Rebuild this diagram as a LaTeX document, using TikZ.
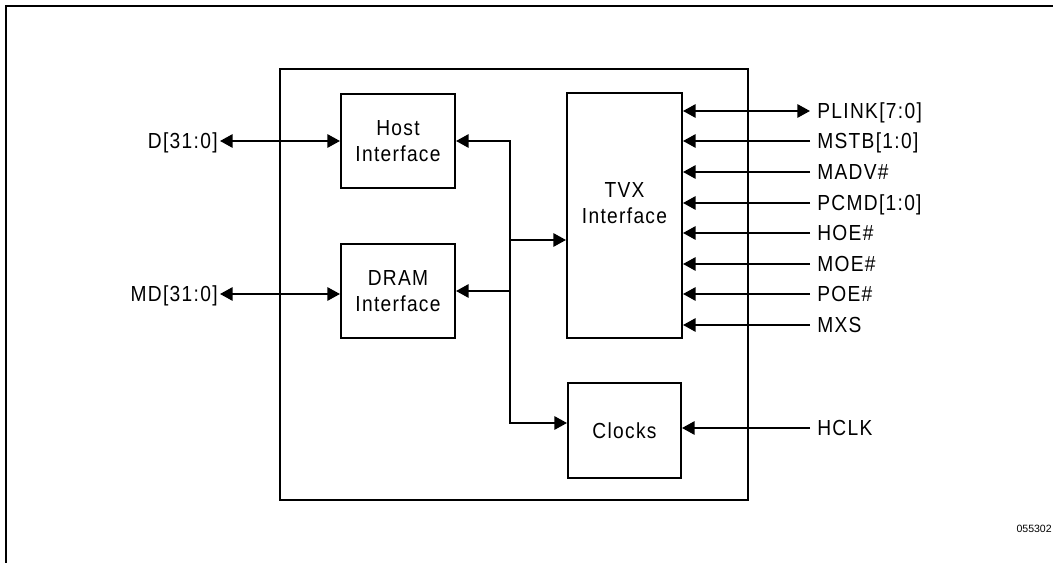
\documentclass[tikz,border=0pt]{standalone}
\usepackage{fontspec}
\setmainfont{Liberation Sans}
\newfontfamily\sigfont{Liberation Sans}[LetterSpace=6, FakeStretch=0.88]
\usetikzlibrary{arrows.meta,positioning,calc}

\begin{document}
\begin{tikzpicture}[x=0.025cm, y=-0.025cm,
    block/.style={rectangle, draw=black, line width=1.4pt, align=center,
        font=\sigfont\fontsize{15.5}{19}\selectfont, inner sep=0pt},
    sig/.style={font=\sigfont\fontsize{15.5}{19}\selectfont, inner sep=5pt,
        text height=11pt, text depth=0pt},
    wire/.style={line width=1.4pt},
    arrow/.style={wire, -{Triangle[length=9pt,width=9.5pt]}},
    biarrow/.style={wire, {Triangle[length=9pt,width=9.5pt]}-{Triangle[length=9pt,width=9.5pt]}}
]
    \useasboundingbox (0,0) rectangle (1053,563);
    % page frame (cut at right and bottom)
    \draw[line width=2.1pt] (1080,6) -- (6,6) -- (6,590);

    % chip and its blocks
    \node[block, minimum width=11.7cm, minimum height=10.775cm] (chip) at (514,284.5) {};
    \node[block, minimum width=2.85cm, minimum height=2.35cm] (host) at (398,141) {Host\\Interface};
    \node[block, minimum width=2.85cm, minimum height=2.35cm, below=1.35cm of host] (dram) {DRAM\\Interface};
    \node[block, minimum width=2.875cm, minimum height=6.125cm] (tvx) at (624.5,215.5) {};
    \node[font=\sigfont\fontsize{15.5}{19}\selectfont, align=center, inner sep=0pt] (tvxlabel) at (624.5,203) {TVX\\Interface};
    \node[block, minimum width=2.825cm, minimum height=2.375cm, below=1.075cm of tvx] (clocks) {Clocks};

    % internal bus
    \coordinate (bustop) at (510,141);
    \coordinate (busbot) at (510,423);
    \coordinate (bustvx) at (510,240);
    \draw[biarrow] (host.east) -- (bustop) -- (busbot) -- (clocks.west |- busbot);
    \draw[arrow] (bustop |- dram.east) -- (dram.east);
    \draw[arrow] (bustvx) -- (tvx.west |- bustvx);

    % left side buses
    \node[sig, anchor=east, inner xsep=1.5pt] (dbus) at (220,141) {D[31:0]};
    \node[sig, anchor=east, inner xsep=1.5pt] (mdbus) at (220,294) {MD[31:0]};
    \draw[biarrow] (dbus.east) -- (host.west);
    \draw[biarrow] (mdbus.east) -- (dram.west |- mdbus.east);

    % right side signals
    \node[sig, anchor=west] (plink) at (810,111) {PLINK[7:0]};
    \draw[biarrow] (plink.west) -- (tvx.east |- plink.west);
    \foreach \name/\txt/\yy in {mstb/MSTB[1:0]/141, madv/MADV\#/172, pcmd/PCMD[1:0]/203,
        hoe/HOE\#/233, moe/MOE\#/264, poe/POE\#/294, mxs/MXS/325} {
        \node[sig, anchor=west] (\name) at (810,\yy) {\txt};
        \draw[arrow] (\name.west) -- (tvx.east |- \name.west);
    }
    \node[sig, anchor=west] (hclk) at (810,428) {HCLK};
    \draw[arrow] (hclk.west) -- (clocks.east |- hclk.west);

    \node[font=\fontsize{7.5}{9}\selectfont, anchor=east, inner sep=0pt] (figno) at (1052,529) {055302};
\end{tikzpicture}
\end{document}
